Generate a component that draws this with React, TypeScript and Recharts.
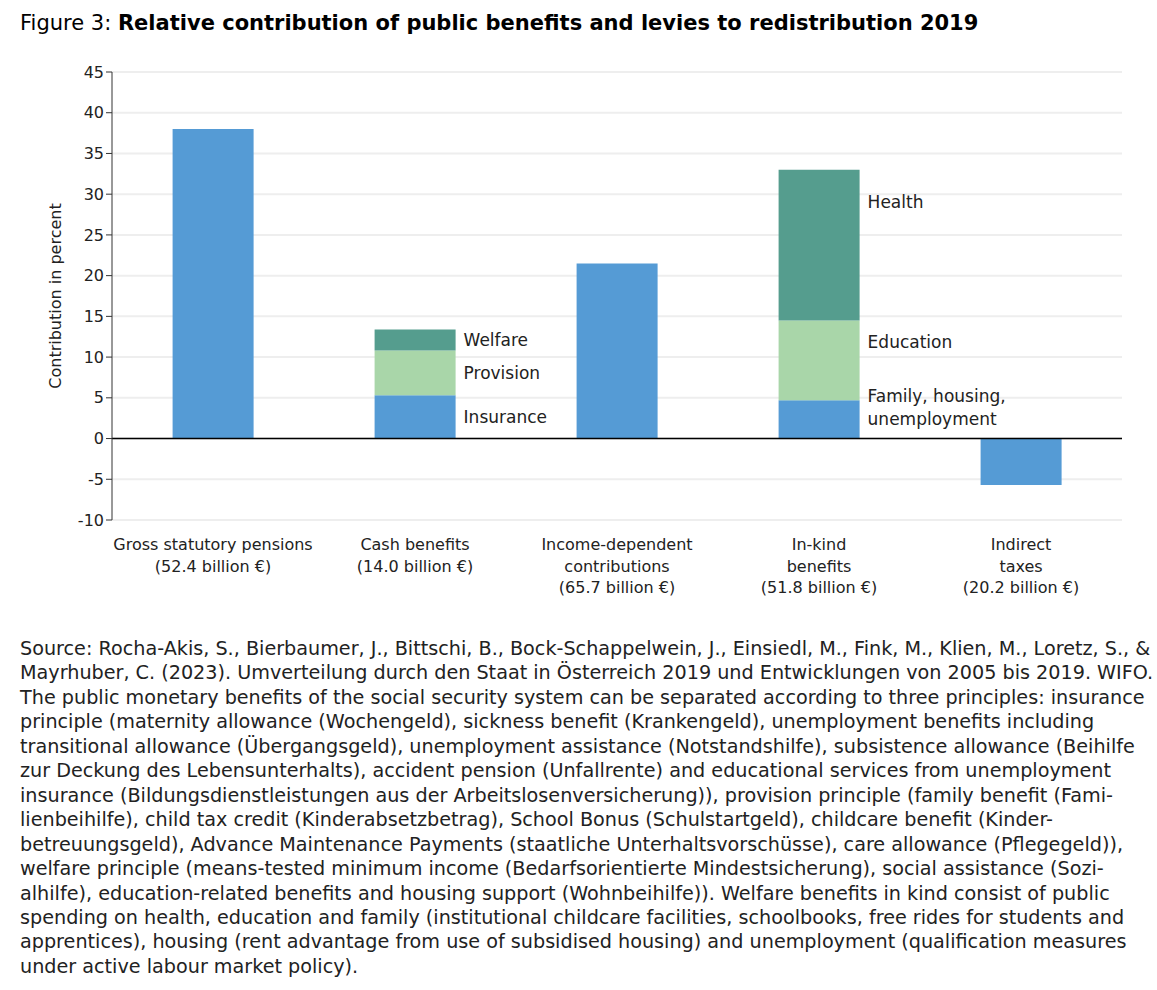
import React from "react";
import {
  BarChart,
  Bar,
  XAxis,
  YAxis,
  CartesianGrid,
  ReferenceLine,
  LabelList,
} from "recharts";

// ─── Data ───────────────────────────────────────────────────────────────────
const categories = [
  ["Gross statutory pensions", "(52.4 billion €)"],
  ["Cash benefits", "(14.0 billion €)"],
  ["Income-dependent", "contributions", "(65.7 billion €)"],
  ["In-kind", "benefits", "(51.8 billion €)"],
  ["Indirect", "taxes", "(20.2 billion €)"],
];
const baseValues = [38.0, 5.3, 21.5, 4.7, -5.7];
const midValues = [0, 5.5, 0, 9.8, 0];
const topValues = [0, 2.6, 0, 18.5, 0];

const baseLabels = ["", "Insurance", "", "Family, housing,|unemployment", ""];
const midLabels = ["", "Provision", "", "Education", ""];
const topLabels = ["", "Welfare", "", "Health", ""];

const yTicks = [-10, -5, 0, 5, 10, 15, 20, 25, 30, 35, 40, 45];

const footnote = [
  "Source: Rocha-Akis, S., Bierbaumer, J., Bittschi, B., Bock-Schappelwein, J., Einsiedl, M., Fink, M., Klien, M., Loretz, S., &",
  "Mayrhuber, C. (2023). Umverteilung durch den Staat in Österreich 2019 und Entwicklungen von 2005 bis 2019. WIFO.",
  "The public monetary benefits of the social security system can be separated according to three principles: insurance",
  "principle (maternity allowance (Wochengeld), sickness benefit (Krankengeld), unemployment benefits including",
  "transitional allowance (Übergangsgeld), unemployment assistance (Notstandshilfe), subsistence allowance (Beihilfe",
  "zur Deckung des Lebensunterhalts), accident pension (Unfallrente) and educational services from unemployment",
  "insurance (Bildungsdienstleistungen aus der Arbeitslosenversicherung)), provision principle (family benefit (Fami-",
  "lienbeihilfe), child tax credit (Kinderabsetzbetrag), School Bonus (Schulstartgeld), childcare benefit (Kinder-",
  "betreuungsgeld), Advance Maintenance Payments (staatliche Unterhaltsvorschüsse), care allowance (Pflegegeld)),",
  "welfare principle (means-tested minimum income (Bedarfsorientierte Mindestsicherung), social assistance (Sozi-",
  "alhilfe), education-related benefits and housing support (Wohnbeihilfe)). Welfare benefits in kind consist of public",
  "spending on health, education and family (institutional childcare facilities, schoolbooks, free rides for students and",
  "apprentices), housing (rent advantage from use of subsidised housing) and unemployment (qualification measures",
  "under active labour market policy).",
];

// ─── Style ──────────────────────────────────────────────────────────────────
const FONT = "'DejaVu Sans', sans-serif";
const BLUE = "#559BD5";
const LIGHT_GREEN = "#A9D6A9";
const TEAL = "#559D8E";
const TEXT = "#222";

const data = categories.map((c, i) => ({
  name: c.join(" "),
  base: baseValues[i],
  mid: midValues[i],
  top: topValues[i],
  baseLabel: baseLabels[i],
  midLabel: midLabels[i],
  topLabel: topLabels[i],
}));

// labels that are not centred on their segment: offset from the segment top
const labelOffsetFromTop: Record<string, number> = {
  Health: 32,
  Education: 22,
  "Family, housing,|unemployment": -4,
};

function SegmentLabel(props: any) {
  const { x, y, width, height, value } = props;
  if (!value) return null;
  const lines = String(value).split("|");
  const top = Math.min(y, y + height);
  const off = labelOffsetFromTop[value];
  const cy = off === undefined ? top + Math.abs(height) / 2 : top + off;
  const lx = x + width + 8;
  return (
    <text
      x={lx}
      y={cy}
      fontSize={17}
      fontFamily={FONT}
      fill={TEXT}
      dominantBaseline="central"
    >
      {lines.map((t, k) => (
        <tspan key={k} x={lx} dy={k === 0 ? 0 : 23}>
          {t}
        </tspan>
      ))}
    </text>
  );
}

function CategoryTick(props: any) {
  const { x, y, index } = props;
  const lines = categories[index] || [];
  return (
    <text
      x={x}
      y={y + 22}
      textAnchor="middle"
      fontSize={16}
      fontFamily={FONT}
      fill={TEXT}
    >
      {lines.map((t, k) => (
        <tspan key={k} x={x} dy={k === 0 ? 0 : 21.5}>
          {t}
        </tspan>
      ))}
    </text>
  );
}

export default function App() {
  return (
    <div
      style={{
        position: "absolute",
        left: 0,
        top: 0,
        width: 1157,
        height: 990,
        background: "#fff",
        fontFamily: FONT,
        color: TEXT,
      }}
    >
      <div
        style={{
          position: "absolute",
          left: 20,
          top: 11,
          fontSize: 21,
          whiteSpace: "nowrap",
          color: "#000",
        }}
      >
        Figure 3:{" "}
        <b>Relative contribution of public benefits and levies to redistribution 2019</b>
      </div>

      <div style={{ position: "absolute", left: 0, top: 0 }}>
        <BarChart
          width={1157}
          height={620}
          data={data}
          margin={{ top: 72, right: 35, bottom: 10, left: 0 }}
          barCategoryGap="30%"
        >
          <CartesianGrid vertical={false} stroke="#eeeeee" strokeWidth={2} />
          <XAxis
            dataKey="name"
            axisLine={false}
            tickLine={false}
            interval={0}
            height={90}
            tick={<CategoryTick />}
          />
          <YAxis
            width={112}
            domain={[-10, 45]}
            ticks={yTicks}
            interval={0}
            axisLine={{ stroke: "#333" }}
            tickLine={{ stroke: "#333" }}
            tickSize={6}
            tick={{ fontSize: 16, fill: TEXT, fontFamily: FONT }}
            label={{
              value: "Contribution in percent",
              angle: -90,
              position: "insideLeft",
              offset: 55,
              style: { textAnchor: "middle", fontSize: 16, fill: TEXT, fontFamily: FONT },
            }}
          />
          <ReferenceLine y={0} stroke="#000" strokeWidth={1.5} />
          <Bar dataKey="base" stackId="a" fill={BLUE} isAnimationActive={false}>
            <LabelList dataKey="baseLabel" content={<SegmentLabel />} />
          </Bar>
          <Bar dataKey="mid" stackId="a" fill={LIGHT_GREEN} isAnimationActive={false}>
            <LabelList dataKey="midLabel" content={<SegmentLabel />} />
          </Bar>
          <Bar dataKey="top" stackId="a" fill={TEAL} isAnimationActive={false}>
            <LabelList dataKey="topLabel" content={<SegmentLabel />} />
          </Bar>
        </BarChart>
      </div>

      <div
        style={{
          position: "absolute",
          left: 20,
          top: 637,
          fontSize: 19.2,
          lineHeight: "24.45px",
          whiteSpace: "nowrap",
        }}
      >
        {footnote.map((line, i) => (
          <div key={i}>{line}</div>
        ))}
      </div>
    </div>
  );
}
